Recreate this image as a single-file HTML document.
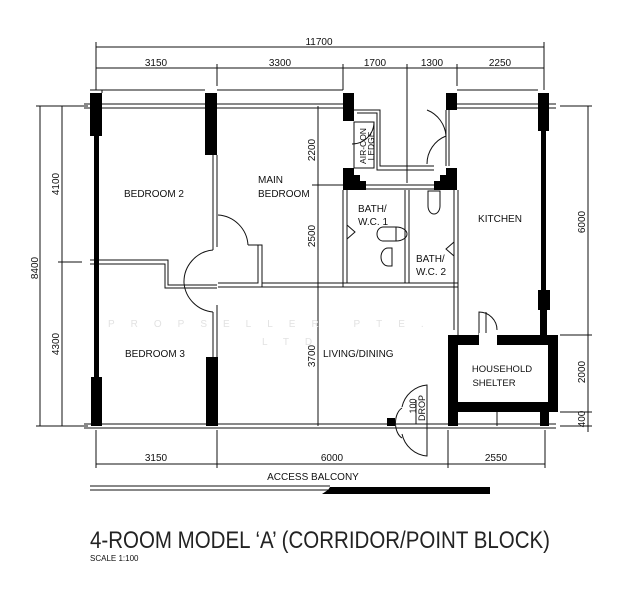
<!DOCTYPE html>
<html><head><meta charset="utf-8"><style>
html,body{margin:0;padding:0;background:#fff;}
svg{display:block;}
text{font-family:"Liberation Sans Narrow","Liberation Sans",sans-serif;fill:#111;}
</style></head><body>
<svg width="630" height="600" viewBox="0 0 630 600" xmlns="http://www.w3.org/2000/svg">
<g stroke="#111" stroke-width="1" fill="none">
<line x1="96" y1="47" x2="544" y2="47"/>
<line x1="96" y1="68" x2="544" y2="68"/>
<line x1="96" y1="42" x2="96" y2="90"/>
<line x1="544" y1="42" x2="544" y2="90"/>
<line x1="217" y1="64" x2="217" y2="86"/>
<line x1="343" y1="64" x2="343" y2="90"/>
<line x1="407" y1="64" x2="407" y2="183"/>
<line x1="457" y1="64" x2="457" y2="86"/>
<line x1="40" y1="106" x2="40" y2="426"/>
<line x1="62" y1="106" x2="62" y2="426"/>
<line x1="36" y1="106" x2="88" y2="106"/>
<line x1="36" y1="426" x2="88" y2="426"/>
<line x1="58" y1="262" x2="82" y2="262"/>
<line x1="588" y1="106" x2="588" y2="432"/>
<line x1="560" y1="106" x2="592" y2="106"/>
<line x1="560" y1="335" x2="592" y2="335"/>
<line x1="560" y1="412" x2="592" y2="412"/>
<line x1="560" y1="426" x2="592" y2="426"/>
<line x1="96" y1="464" x2="545" y2="464"/>
<line x1="96" y1="430" x2="96" y2="468"/>
<line x1="217" y1="430" x2="217" y2="468"/>
<line x1="448" y1="430" x2="448" y2="468"/>
<line x1="545" y1="430" x2="545" y2="468"/>
<line x1="318" y1="106" x2="318" y2="426"/>
<line x1="312" y1="185" x2="343" y2="185"/>
<polyline points="90,90 102,90 102,93"/>
<polyline points="102,90 205,90"/>
<line x1="217" y1="90" x2="343" y2="90"/>
<line x1="457" y1="90" x2="538" y2="90"/>
<line x1="84" y1="104" x2="343" y2="104"/>
<line x1="84" y1="108" x2="343" y2="108"/>
<line x1="457" y1="104" x2="556" y2="104"/>
<line x1="457" y1="108" x2="556" y2="108"/>
<line x1="84" y1="424" x2="556" y2="424"/>
<line x1="84" y1="428" x2="556" y2="428"/>
<line x1="213" y1="155" x2="213" y2="250"/>
<line x1="217" y1="155" x2="217" y2="247"/>
<path d="M218 215 A32 32 0 0 1 248 245"/>
<polyline points="248,245 258,245 258,283 218,283"/>
<polyline points="252,245 262,245 262,287 218,287"/>
<path d="M213 250 A32 32 0 0 0 184 283"/>
<path d="M184 283 A32 32 0 0 0 213 312"/>
<polyline points="90,260 168,260 168,285 217,285"/>
<polyline points="90,264 165,264 165,288 217,288"/>
<line x1="213" y1="312" x2="213" y2="357"/>
<line x1="217" y1="305" x2="217" y2="357"/>
<line x1="262" y1="283" x2="458" y2="283"/>
<line x1="262" y1="287" x2="458" y2="287"/>
<line x1="343" y1="190" x2="343" y2="287"/>
<line x1="347" y1="190" x2="347" y2="283"/>
<line x1="405" y1="190" x2="405" y2="283"/>
<line x1="409" y1="190" x2="409" y2="283"/>
<line x1="454" y1="190" x2="454" y2="330"/>
<line x1="458" y1="190" x2="458" y2="335"/>
<line x1="366" y1="185" x2="434" y2="185"/>
<line x1="366" y1="189" x2="434" y2="189"/>
<polyline points="354,110 380,110 380,166 434,166"/>
<polyline points="357,113 377,113 377,170 434,170"/>
<rect x="354" y="122" width="20" height="46"/>
<path d="M374 122 A22 22 0 0 1 352 144"/>
<path d="M427 110 A30 30 0 0 1 446 136"/>
<path d="M446 136 A30 30 0 0 0 427 164"/>
<line x1="446" y1="110" x2="446" y2="166"/>
<line x1="449" y1="110" x2="449" y2="166"/>
<path d="M428 191 L440 191 L440 206 A6 8 0 0 1 428 206 Z"/>
<path d="M396 227 L383 227 A6 7 0 0 0 383 241 L396 241 Z"/>
<path d="M396 227 A11 7 0 0 1 396 241"/>
<path d="M392 248 L392 266 L388 266 A7 9 0 0 1 388 248 Z"/>
<path d="M347 225 L355 232 L347 239"/>
<path d="M454 242 L446 249 L454 256"/>
<path d="M497 330 A18 18 0 0 0 479 312 L479 335"/>
<line x1="486" y1="312" x2="486" y2="335"/>
<path d="M402 407 A28 28 0 0 1 427 385 L427 456 A28 28 0 0 1 402 434"/>
<path d="M402 408 A10 16 0 0 0 402 438"/>
<line x1="416" y1="400" x2="416" y2="424"/>
<line x1="497" y1="412" x2="497" y2="426"/>
<line x1="487" y1="424" x2="507" y2="424"/>
<line x1="90" y1="486" x2="330" y2="486"/>
<line x1="90" y1="490" x2="330" y2="490"/>
</g>
<g fill="#000">
<rect x="90" y="93" width="12" height="43"/>
<rect x="94" y="136" width="5" height="241"/>
<rect x="91" y="377" width="11" height="49"/>
<rect x="205" y="93" width="12" height="62"/>
<rect x="206" y="357" width="12" height="69"/>
<rect x="343" y="93" width="11" height="28"/>
<polygon points="343,168 354,168 354,175 360,175 360,181 366,181 366,190 343,190"/>
<polygon points="446,168 457,168 457,190 434,190 434,181 440,181 440,175 446,175"/>
<rect x="446" y="93" width="11" height="17"/>
<rect x="538" y="93" width="11" height="38"/>
<rect x="541" y="131" width="5" height="160"/>
<rect x="538" y="290" width="12" height="20"/>
<rect x="540" y="310" width="7" height="30"/>
<path d="M448 335 H558 V412 H448 Z M458 345 V402 H548 V345 Z" fill-rule="evenodd"/>
<rect x="448" y="412" width="10" height="14"/>
<rect x="540" y="412" width="9" height="14"/>
<rect x="387" y="418" width="8" height="8"/>
<polygon points="330,487 490,487 490,494 322,494 328,490"/>
</g>
<rect x="479" y="333" width="18" height="13" fill="#fff"/>
<g font-size="10">
<text x="319" y="45" text-anchor="middle">11700</text>
<text x="156" y="66" text-anchor="middle">3150</text>
<text x="280" y="66" text-anchor="middle">3300</text>
<text x="375" y="66" text-anchor="middle">1700</text>
<text x="432" y="66" text-anchor="middle">1300</text>
<text x="500" y="66" text-anchor="middle">2250</text>
<text x="156" y="461" text-anchor="middle">3150</text>
<text x="332" y="461" text-anchor="middle">6000</text>
<text x="496" y="461" text-anchor="middle">2550</text>
<text transform="translate(59,184) rotate(-90)" text-anchor="middle">4100</text>
<text transform="translate(59,344) rotate(-90)" text-anchor="middle">4300</text>
<text transform="translate(38,268) rotate(-90)" text-anchor="middle">8400</text>
<text transform="translate(315,150) rotate(-90)" text-anchor="middle">2200</text>
<text transform="translate(315,236) rotate(-90)" text-anchor="middle">2500</text>
<text transform="translate(315,356) rotate(-90)" text-anchor="middle">3700</text>
<text transform="translate(585,222) rotate(-90)" text-anchor="middle">6000</text>
<text transform="translate(585,372) rotate(-90)" text-anchor="middle">2000</text>
<text transform="translate(585,419) rotate(-90)" text-anchor="middle">400</text>
<text transform="translate(366,146) rotate(-90)" text-anchor="middle" font-size="8.5">AIR-CON</text>
<text transform="translate(374,146) rotate(-90)" text-anchor="middle" font-size="8.5">LEDGE</text>
<text transform="translate(416,406) rotate(-90)" text-anchor="middle" font-size="9">100</text>
<text transform="translate(425,408) rotate(-90)" text-anchor="middle" font-size="9">DROP</text>
<text x="154" y="197" text-anchor="middle">BEDROOM 2</text>
<text x="258" y="183">MAIN</text>
<text x="258" y="197">BEDROOM</text>
<text x="155" y="357" text-anchor="middle">BEDROOM 3</text>
<text x="323" y="357">LIVING/DINING</text>
<text x="358" y="212">BATH/</text>
<text x="358" y="225">W.C. 1</text>
<text x="416" y="262">BATH/</text>
<text x="416" y="275">W.C. 2</text>
<text x="500" y="222" text-anchor="middle">KITCHEN</text>
<text x="502" y="372" text-anchor="middle" font-size="9.5">HOUSEHOLD</text>
<text x="494" y="386" text-anchor="middle" font-size="9.5">SHELTER</text>
<text x="313" y="480" text-anchor="middle">ACCESS BALCONY</text>
</g>
<g font-size="10" letter-spacing="16">
<text x="108" y="327" style="fill:#e2e2e2">PROPSELLER PTE.</text>
<text x="262" y="345" style="fill:#e2e2e2">LTD</text>
</g>
<text x="90" y="548" font-size="24" textLength="460" lengthAdjust="spacingAndGlyphs" style="fill:#222">4-ROOM MODEL ‘A’ (CORRIDOR/POINT BLOCK)</text>
<text x="90" y="561" font-size="8">SCALE  1:100</text>
</svg>
</body></html>
